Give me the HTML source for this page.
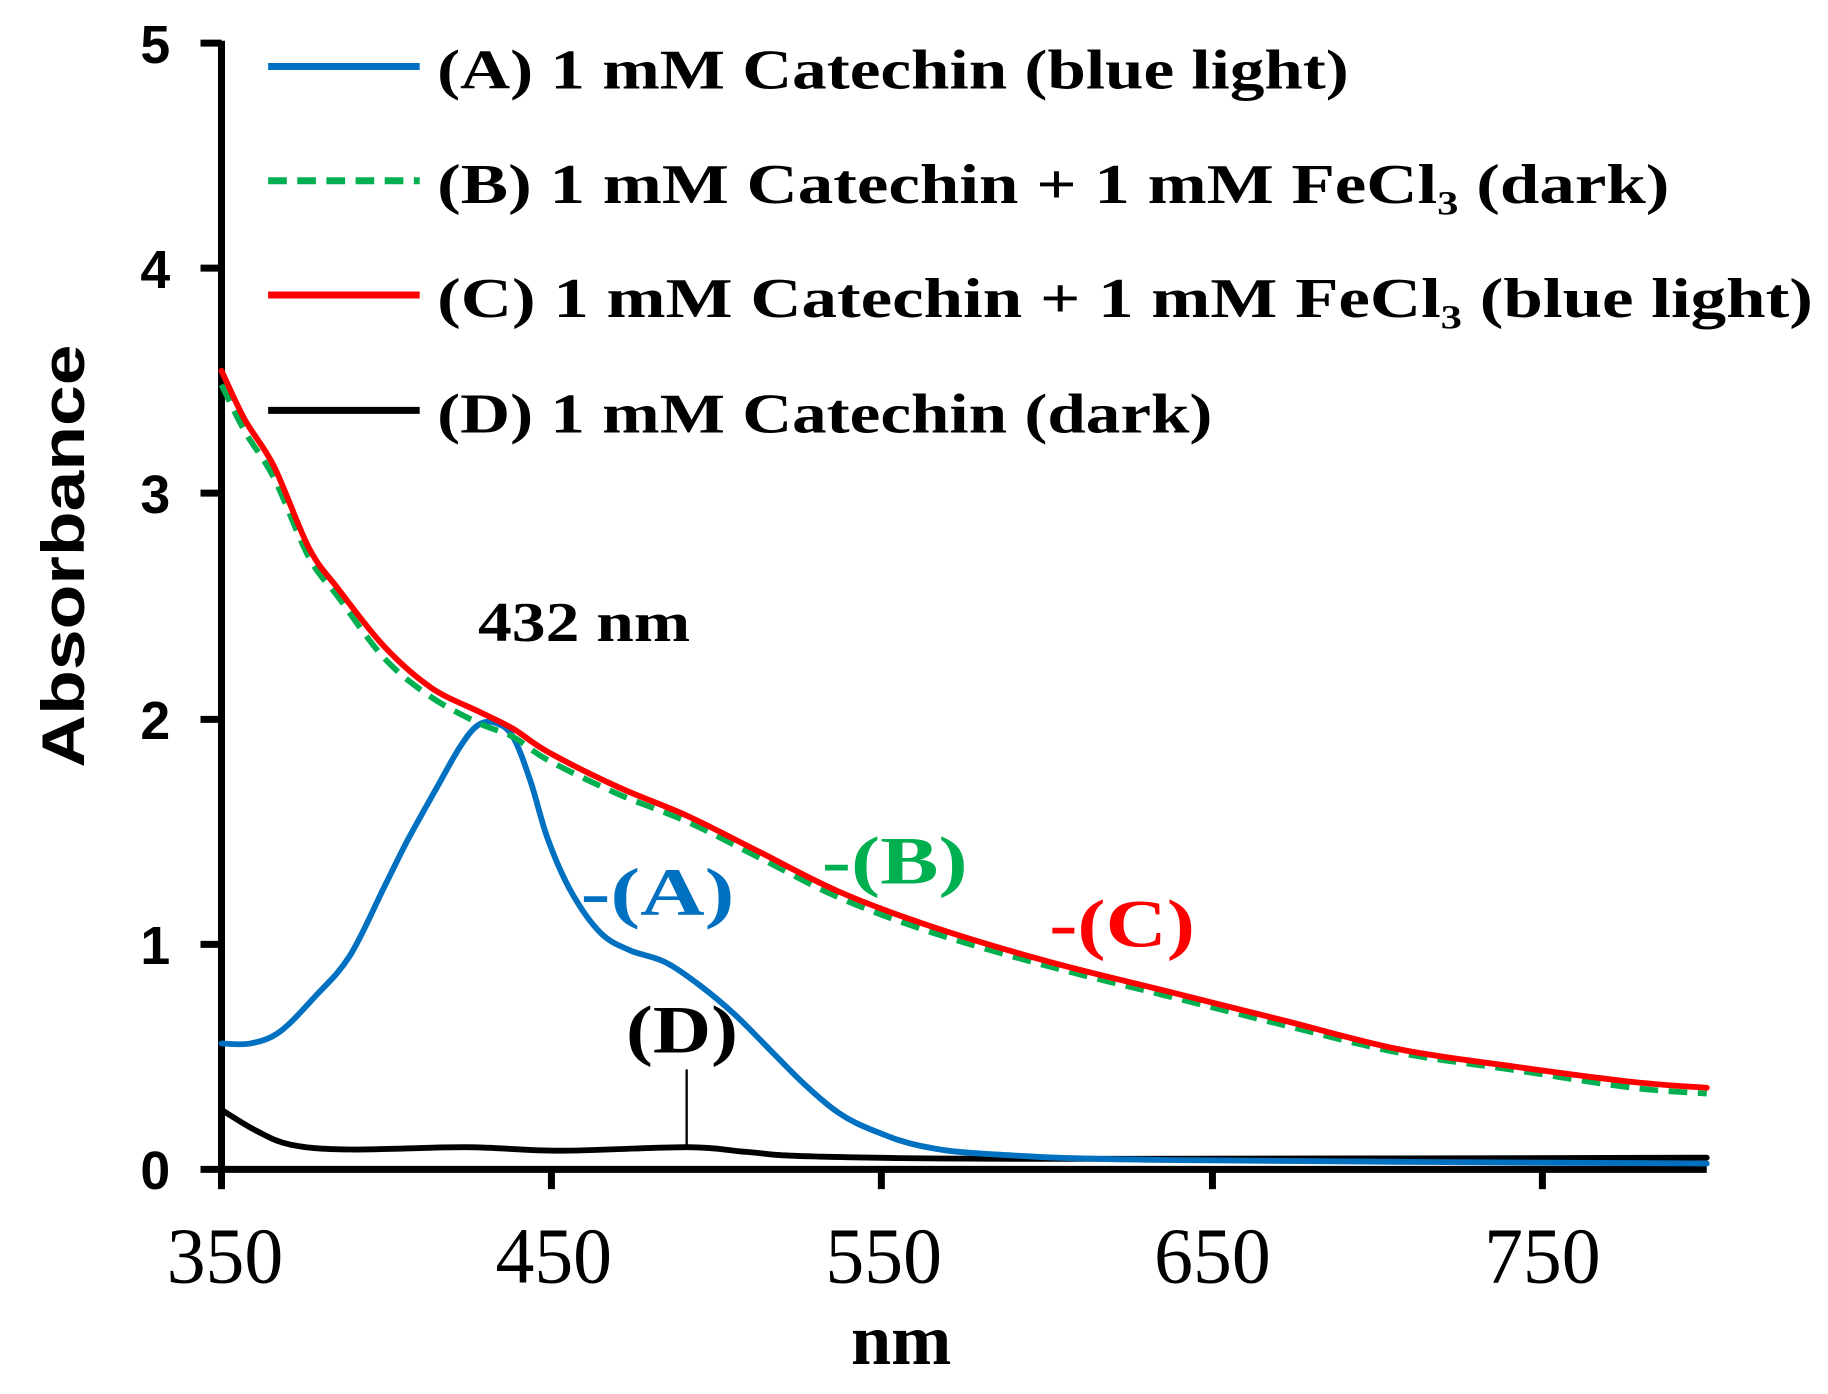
<!DOCTYPE html>
<html><head><meta charset="utf-8"><style>html,body{margin:0;padding:0;background:#fff;}svg{display:block;}</style></head>
<body>
<svg id="s" width="1828" height="1394" viewBox="0 0 1568 1195.7" preserveAspectRatio="none" xmlns="http://www.w3.org/2000/svg">
<rect width="1568" height="1196" fill="#fff"/>
<g stroke="#000" stroke-width="6" fill="none">
<line x1="190" y1="35" x2="190" y2="1006"/>
<line x1="187" y1="1003" x2="1464" y2="1003"/>
<line x1="172" y1="37" x2="190" y2="37"/>
<line x1="172" y1="230" x2="190" y2="230"/>
<line x1="172" y1="423" x2="190" y2="423"/>
<line x1="172" y1="617" x2="190" y2="617"/>
<line x1="172" y1="810" x2="190" y2="810"/>
<line x1="172" y1="1003" x2="190" y2="1003"/>
<line x1="190" y1="1003" x2="190" y2="1020"/>
<line x1="473" y1="1003" x2="473" y2="1020"/>
<line x1="756" y1="1003" x2="756" y2="1020"/>
<line x1="1040" y1="1003" x2="1040" y2="1020"/>
<line x1="1323" y1="1003" x2="1323" y2="1020"/>
</g>
<g font-family="Liberation Sans, sans-serif" font-weight="bold" font-size="46" text-anchor="end">
<text x="146" y="54">5</text><text x="146" y="247">4</text><text x="146" y="440">3</text>
<text x="146" y="634">2</text><text x="146" y="827">1</text><text x="146" y="1020">0</text>
</g>
<g font-family="Liberation Serif, serif" font-size="68" text-anchor="middle">
<text x="193" y="1100" textLength="100" lengthAdjust="spacingAndGlyphs">350</text>
<text x="475" y="1100" textLength="100" lengthAdjust="spacingAndGlyphs">450</text>
<text x="758" y="1100" textLength="100" lengthAdjust="spacingAndGlyphs">550</text>
<text x="1040" y="1100" textLength="100" lengthAdjust="spacingAndGlyphs">650</text>
<text x="1323" y="1100" textLength="100" lengthAdjust="spacingAndGlyphs">750</text>
</g>
<text x="773" y="1170" font-family="Liberation Serif, serif" font-weight="bold" font-size="62" text-anchor="middle">nm</text>
<text transform="translate(72,477) rotate(-90)" font-family="Liberation Sans, sans-serif" font-weight="bold" font-size="52" text-anchor="middle" textLength="363" lengthAdjust="spacingAndGlyphs">Absorbance</text>
<g fill="none" stroke-linejoin="round" stroke-linecap="round">
<polyline class="sm" stroke="#000" stroke-width="5" points="190,952 220,970 250,982 300,986 400,984 480,987 590,984 640,988 700,992 900,994 1464,993"/>
<line x1="589" y1="918" x2="589" y2="985" stroke="#000" stroke-width="2"/>
<polyline class="sm" stroke="#0070C0" stroke-width="5" points="190,895 215,895 240,885 270,855 300,820 330,760 350,720 375,675 395,640 410,622 425,620 440,632 455,670 470,720 490,765 515,800 540,815 570,825 600,845 630,870 660,900 690,930 720,955 750,970 790,983 850,990 1000,995 1464,998"/>
<polyline class="sm" stroke="#00B050" stroke-width="5" stroke-dasharray="16,9" stroke-linecap="butt" points="190,330 210,370 235,410 265,478 290,512 330,565 370,598 410,620 440,632 470,652 530,681 590,705 650,735 720,770 800,800 900,829 1000,854 1100,879 1200,903 1300,918 1400,933 1464,938"/>
<polyline class="sm" stroke="#FF0000" stroke-width="5" points="190,318 210,360 235,400 265,470 290,505 330,555 370,590 410,610 440,625 470,645 530,675 590,700 650,730 720,765 800,795 900,825 1000,850 1100,875 1200,900 1300,915 1400,928 1464,933"/>
</g>
<g stroke-width="6" fill="none">
<line x1="230" y1="57" x2="360" y2="57" stroke="#0070C0"/>
<line x1="230" y1="155" x2="360" y2="155" stroke="#00B050" stroke-dasharray="16,9"/>
<line x1="230" y1="253" x2="360" y2="253" stroke="#FF0000"/>
<line x1="230" y1="352" x2="360" y2="352" stroke="#000"/>
</g>
<g font-family="Liberation Serif, serif" font-weight="bold" font-size="48">
<text x="375" y="76" textLength="782" lengthAdjust="spacingAndGlyphs">(A) 1 mM Catechin (blue light)</text>
<text x="375" y="174" textLength="1057" lengthAdjust="spacingAndGlyphs">(B) 1 mM Catechin + 1 mM FeCl₃  (dark)</text>
<text x="375" y="272" textLength="1180" lengthAdjust="spacingAndGlyphs">(C) 1 mM Catechin + 1 mM FeCl₃  (blue light)</text>
<text x="375" y="371" textLength="665" lengthAdjust="spacingAndGlyphs">(D) 1 mM Catechin (dark)</text>
<text x="410" y="550" textLength="182" lengthAdjust="spacingAndGlyphs">432 nm</text>
</g>
<g font-family="Liberation Serif, serif" font-weight="bold" font-size="58">
<text x="498" y="785" fill="#0070C0" textLength="132" lengthAdjust="spacingAndGlyphs">-(A)</text>
<text x="705" y="758" fill="#00B050" textLength="125" lengthAdjust="spacingAndGlyphs">-(B)</text>
<text x="900" y="812" fill="#FF0000" textLength="125" lengthAdjust="spacingAndGlyphs">-(C)</text>
<text x="537" y="903" fill="#000" textLength="96" lengthAdjust="spacingAndGlyphs">(D)</text>
</g>
</svg>
<script>
document.querySelectorAll('polyline.sm').forEach(function(pl){
  var p=pl.getAttribute('points').trim().split(/\s+/).map(function(s){return s.split(',').map(Number);});
  var d='M'+p[0][0]+','+p[0][1];
  for(var i=0;i<p.length-1;i++){
    var p0=p[i-1]||p[i],p1=p[i],p2=p[i+1],p3=p[i+2]||p2;
    var c1x=p1[0]+(p2[0]-p0[0])/6,c1y=p1[1]+(p2[1]-p0[1])/6;
    var c2x=p2[0]-(p3[0]-p1[0])/6,c2y=p2[1]-(p3[1]-p1[1])/6;
    d+=' C'+c1x+','+c1y+' '+c2x+','+c2y+' '+p2[0]+','+p2[1];
  }
  var path=document.createElementNS('http://www.w3.org/2000/svg','path');
  for(var k=0;k<pl.attributes.length;k++){var a=pl.attributes[k];if(a.name!=='points'&&a.name!=='class')path.setAttribute(a.name,a.value);}
  path.setAttribute('d',d);
  pl.parentNode.replaceChild(path,pl);
});
</script>
</body></html>
